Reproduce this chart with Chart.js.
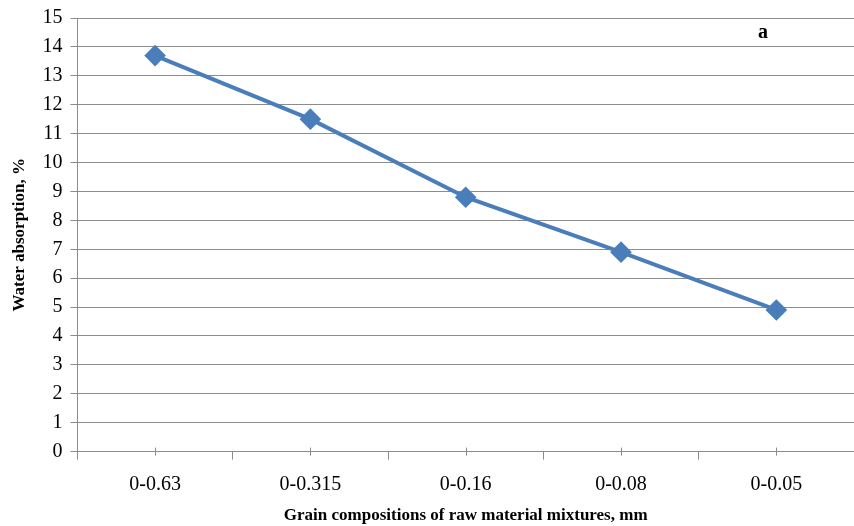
<!DOCTYPE html>
<html>
<head>
<meta charset="utf-8">
<script src="https://cdn.jsdelivr.net/npm/chart.js@4.4.0/dist/chart.umd.min.js"></script>
<style>
  html, body { margin: 0; padding: 0; background: #fff; overflow: hidden; }
  #wrap { width: 866px; height: 526px; }
</style>
</head>
<body>
<div id="wrap"><canvas id="chart"></canvas></div>
<script>
const categories = ["0-0.63", "0-0.315", "0-0.16", "0-0.08", "0-0.05"];
const waterAbsorption = [13.7, 11.5, 8.8, 6.9, 4.9];
const yTicks = { min: 0, max: 15, step: 1 };

// small tick marks at the category centres, like the original
const centreTicks = {
  id: "centreTicks",
  afterDraw(chart) {
    const x = chart.scales.x, ctx = chart.ctx;
    const y0 = chart.chartArea.bottom;
    ctx.save();
    ctx.strokeStyle = "#8c8c8c";
    ctx.lineWidth = 1;
    categories.forEach((c, i) => {
      const px = Math.round(x.getPixelForValue(i)) + 0.5;
      ctx.beginPath();
      ctx.moveTo(px, y0 - 4);
      ctx.lineTo(px, y0 + 4);
      ctx.stroke();
    });
    // panel letter
    ctx.fillStyle = "#000";
    ctx.font = "bold 20px 'Liberation Serif'";
    ctx.textAlign = "center";
    ctx.textBaseline = "middle";
    ctx.fillText("a", 763, 33);
    ctx.restore();
  }
};

const ctx = document.getElementById("chart").getContext("2d");
new Chart(ctx, {
  type: "line",
  data: {
    labels: categories,
    datasets: [{
      label: "Water absorption",
      data: waterAbsorption,
      borderColor: "#4a7ebb",
      backgroundColor: "#4a7ebb",
      borderWidth: 4,
      pointStyle: "rectRot",
      pointRadius: 8,
      pointHoverRadius: 8,
      tension: 0,
    }],
  },
  options: {
    responsive: true,
    maintainAspectRatio: false,
    animation: false,
    layout: { padding: { left: 9, right: 1, top: 0, bottom: 0 } },
    scales: {
      x: {
        offset: true,
        grid: {
          offset: true,
          drawOnChartArea: false,
          color: "#8c8c8c",
          tickLength: 8,
        },
        border: { color: "#8c8c8c" },
        ticks: {
          color: "#000",
          font: { family: "'Liberation Serif'", size: 20, lineHeight: 1 },
          padding: 15,
        },
        title: {
          display: true,
          text: "Grain compositions of raw material mixtures, mm",
          color: "#000",
          font: { family: "'Liberation Serif'", size: 17, weight: "bold" },
          padding: { top: -4, bottom: 0 },
        },
      },
      y: {
        min: yTicks.min,
        max: yTicks.max,
        ticks: {
          stepSize: yTicks.step,
          autoSkip: false,
          color: "#000",
          font: { family: "'Liberation Serif'", size: 20, lineHeight: 1 },
          padding: 8,
        },
        grid: { color: "#8c8c8c", tickLength: 7 },
        border: { color: "#8c8c8c" },
        title: {
          display: true,
          text: "Water absorption, %",
          color: "#000",
          font: { family: "'Liberation Serif'", size: 17, weight: "bold" },
          padding: { top: 0, bottom: 5 },
        },
      },
    },
    plugins: {
      legend: { display: false },
      tooltip: { enabled: false },
    },
  },
  plugins: [centreTicks],
});
</script>
</body>
</html>
